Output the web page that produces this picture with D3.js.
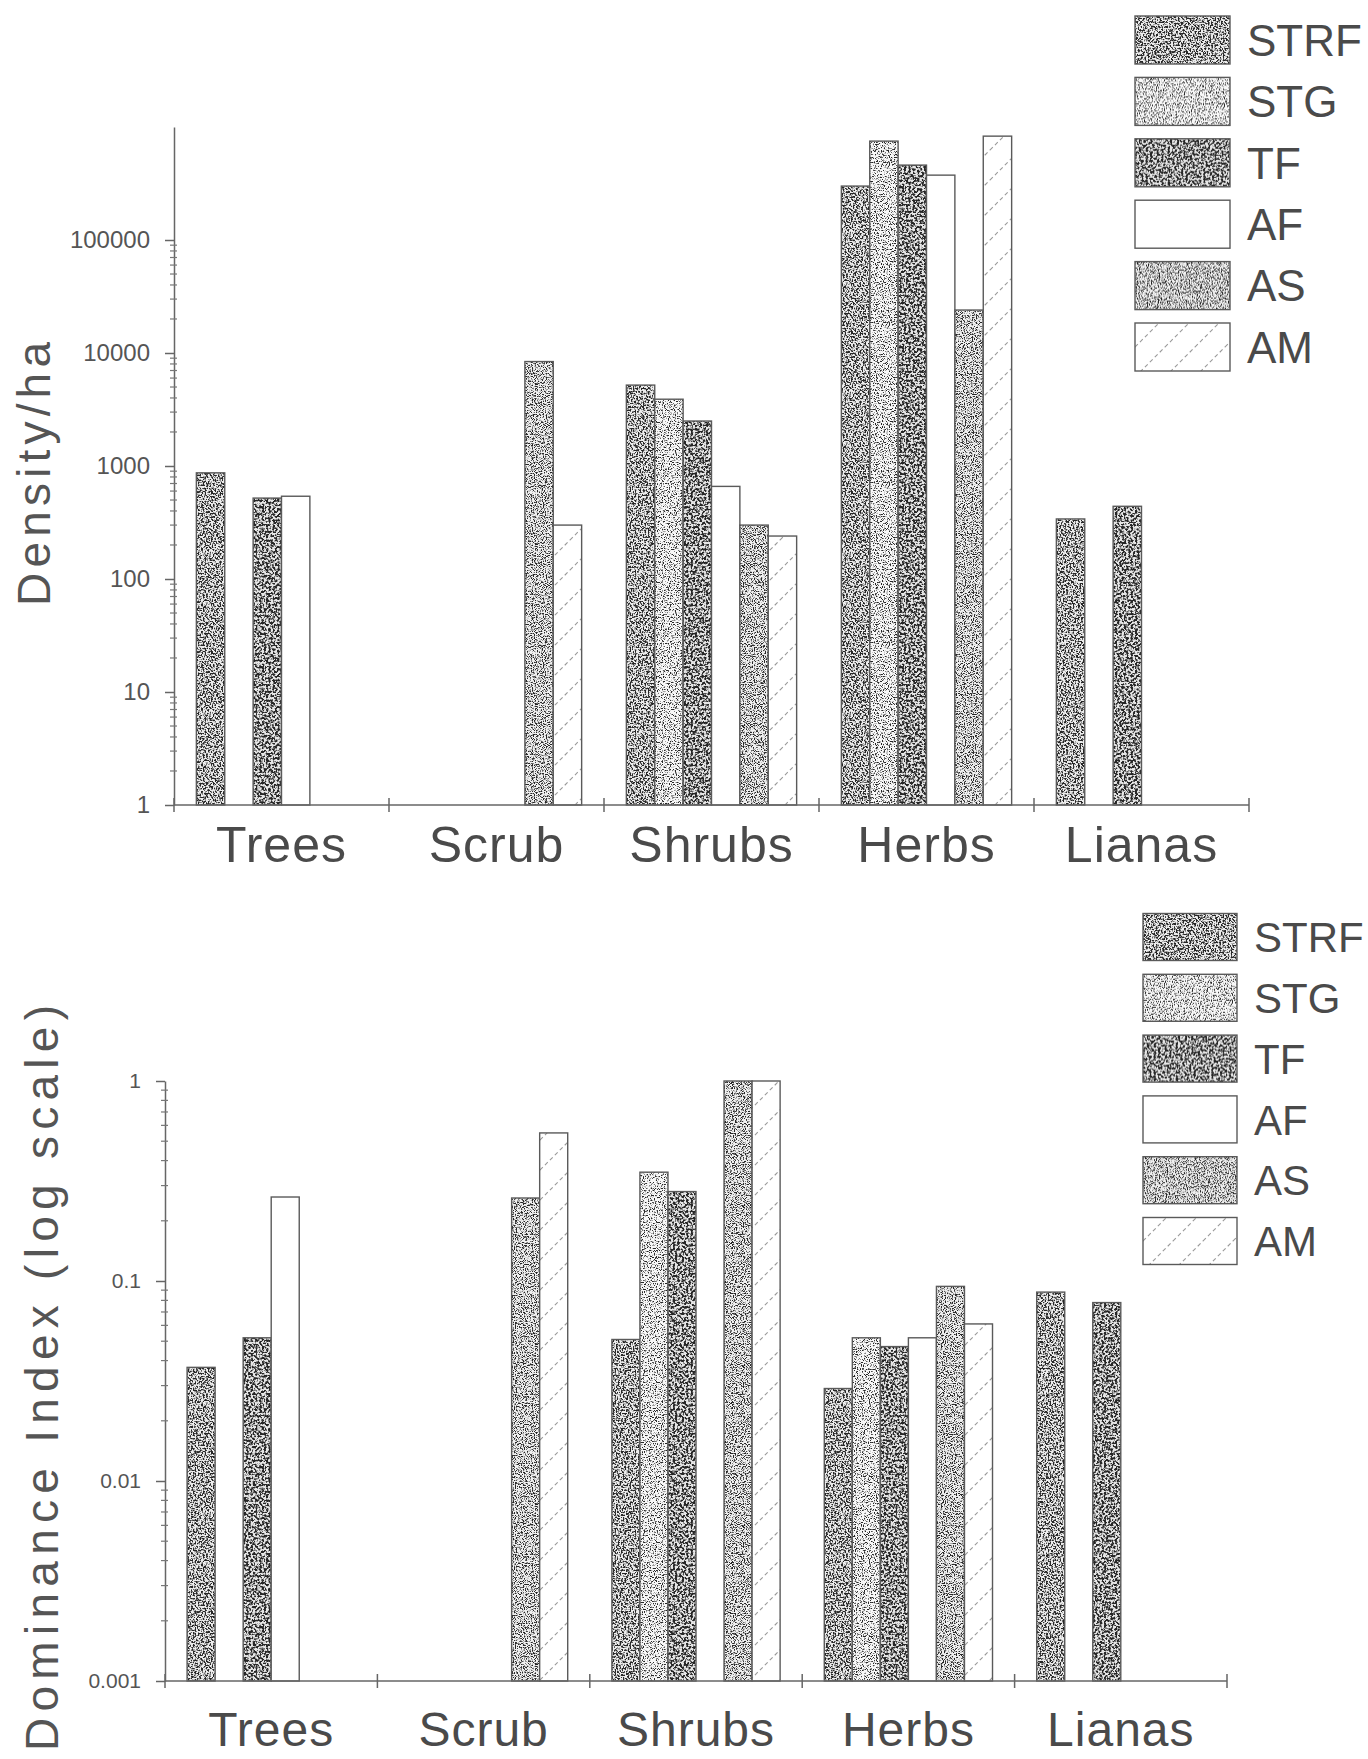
<!DOCTYPE html>
<html>
<head>
<meta charset="utf-8">
<script src="https://cdn.jsdelivr.net/npm/d3@7"></script>
<style>
  body { margin: 0; background: #fff; }
  text { font-family: "Liberation Sans", Arial, sans-serif; }
</style>
</head>
<body>
<svg></svg>
<script>
// ---- DATA ----
const categories = ["Trees", "Scrub", "Shrubs", "Herbs", "Lianas"];
const sites = ["STRF", "STG", "TF", "AF", "AS", "AM"];

// density per ha, one array per site, in category order (null = no bar)
const densitySTRF = [870, null, 5200, 300000, 340];
const densitySTG  = [null, null, 3900, 750000, null];
const densityTF   = [520, null, 2500, 460000, 440];
const densityAF   = [540, null, 660, 375000, null];
const densityAS   = [null, 8400, 300, 24000, null];
const densityAM   = [null, 300, 240, 830000, null];

// dominance index
const domSTRF = [0.037, null, 0.051, 0.029, 0.088];
const domSTG  = [null, null, 0.35, 0.052, null];
const domTF   = [0.052, null, 0.28, 0.047, 0.078];
const domAF   = [0.263, null, null, 0.052, null];
const domAS   = [null, 0.26, 1.0, 0.094, null];
const domAM   = [null, 0.55, 1.0, 0.061, null];

const densityTicks = [1, 10, 100, 1000, 10000, 100000];
const dominanceTicks = [0.001, 0.01, 0.1, 1];

// ---- SETUP ----
const svg = d3.select("svg").attr("width", 1368).attr("height", 1759);
const defs = svg.append("defs");

// textures (scan-like speckle)
const T = 160;
const textures = [
    { id: "STRF", bg: "#ededed", freq: 0.6, t: 0.53, seed: 3 },
    { id: "STG",  bg: "#f8f8f8", freq: 0.85, t: 0.595, seed: 5 },
    { id: "TF",   bg: "#e6e6e6", freq: 0.45, t: 0.51, seed: 8 },
    { id: "AS",   bg: "#f0f0f0", freq: 0.9, t: 0.565, seed: 11 }
];
textures.forEach(tx => {
    const K = 6;
    const f = defs.append("filter").attr("id", "f-" + tx.id)
        .attr("filterUnits", "userSpaceOnUse")
        .attr("x", 0).attr("y", 0).attr("width", T).attr("height", T)
        .attr("color-interpolation-filters", "sRGB");
    f.append("feTurbulence").attr("type", "fractalNoise")
        .attr("baseFrequency", tx.freq).attr("numOctaves", 2)
        .attr("seed", tx.seed).attr("stitchTiles", "stitch");
    f.append("feColorMatrix").attr("type", "matrix")
        .attr("values", `0 0 0 0 0.15  0 0 0 0 0.15  0 0 0 0 0.15  ${K} 0 0 0 ${0.5 - K * tx.t}`);
    const p = defs.append("pattern").attr("id", "p-" + tx.id)
        .attr("patternUnits", "userSpaceOnUse").attr("width", T).attr("height", T);
    p.append("rect").attr("width", T).attr("height", T).attr("fill", tx.bg);
    p.append("rect").attr("width", T).attr("height", T).attr("filter", `url(#f-${tx.id})`);
});

// AM: faint diagonal hatch
const hp = defs.append("pattern").attr("id", "p-AM")
    .attr("patternUnits", "userSpaceOnUse").attr("width", 30).attr("height", 30);
hp.append("rect").attr("width", 30).attr("height", 30).attr("fill", "#fff");
hp.append("path").attr("d", "M-6,6 L6,-6 M0,30 L30,0 M24,36 L36,24")
    .attr("stroke", "#999").attr("stroke-width", 1.1).attr("stroke-dasharray", "4 3");

const fillFor = s => s === "AF" ? "#fff" : `url(#p-${s})`;
const ink = "#4a4a4a";

// ---- CHART ----
function drawChart(cfg) {
    const g = svg.append("g");

    const x0 = d3.scaleBand().domain(categories).range([cfg.left, cfg.right]);
    const pad = x0.bandwidth() * 0.104;
    const x1 = d3.scaleBand().domain(sites).range([pad, x0.bandwidth() - pad]);
    const y = d3.scaleLog().domain(cfg.domain).range([cfg.base, cfg.top]);

    // bars
    const rows = [];
    categories.forEach((c, i) => {
        sites.forEach((s, j) => {
            const v = cfg.series[j][i];
            if (v != null) rows.push({ c, s, v });
        });
    });
    g.append("g").selectAll("rect").data(rows).join("rect")
        .attr("x", d => x0(d.c) + x1(d.s))
        .attr("y", d => y(d.v))
        .attr("width", x1.bandwidth())
        .attr("height", d => cfg.base - y(d.v))
        .attr("fill", d => fillFor(d.s))
        .attr("stroke", "#5a5a5a")
        .attr("stroke-width", 1.4);

    // y axis, major ticks
    const yAxis = g.append("g")
        .attr("transform", `translate(${cfg.left},0)`)
        .call(d3.axisLeft(y).tickValues(cfg.ticks).tickFormat(String)
            .tickSize(9).tickSizeOuter(0).tickPadding(15));
    yAxis.selectAll("path, line").attr("stroke", "#666").attr("stroke-width", 1.5);
    yAxis.selectAll("text").attr("fill", "#555").attr("font-size", cfg.tickFont);

    // minor ticks
    const minor = [];
    cfg.ticks.slice(0, -1).forEach(t => {
        for (let k = 2; k <= 9; k++) minor.push(t * k);
    });
    g.append("g").selectAll("line").data(minor).join("line")
        .attr("x1", cfg.left - 4).attr("x2", cfg.left + 3)
        .attr("y1", d => y(d)).attr("y2", d => y(d))
        .attr("stroke", "#777").attr("stroke-width", 1.2);

    // x axis line + boundary ticks
    g.append("line")
        .attr("x1", cfg.left).attr("x2", cfg.right)
        .attr("y1", cfg.base).attr("y2", cfg.base)
        .attr("stroke", "#666").attr("stroke-width", 1.5);
    const xb = d3.scaleLinear().domain([0, categories.length]).range([cfg.left, cfg.right]);
    g.append("g").selectAll("line").data(d3.range(categories.length + 1)).join("line")
        .attr("x1", d => xb(d)).attr("x2", d => xb(d))
        .attr("y1", cfg.base - 7).attr("y2", cfg.base + 7)
        .attr("stroke", "#666").attr("stroke-width", 1.5);

    // category labels
    const xAxis = g.append("g")
        .attr("transform", `translate(0,${cfg.base})`)
        .call(d3.axisBottom(x0).tickSize(0));
    xAxis.select(".domain").remove();
    xAxis.selectAll("text")
        .attr("y", cfg.labelGap).attr("dy", 0)
        .attr("fill", ink).attr("font-size", cfg.labelFont).attr("letter-spacing", 1);

    // y title
    g.append("text")
        .attr("transform", `translate(${cfg.titleX},${cfg.titleY}) rotate(-90)`)
        .attr("text-anchor", "middle")
        .attr("font-size", 46)
        .attr("fill", "#555")
        .attr("textLength", cfg.titleLen)
        .attr("lengthAdjust", "spacing")
        .text(cfg.title);

    // legend
    const lg = g.append("g").selectAll("g").data(sites).join("g")
        .attr("transform", (d, i) => `translate(${cfg.legX},${cfg.legY + i * cfg.legStep})`);
    lg.append("rect")
        .attr("x", 0).attr("y", -cfg.swH / 2)
        .attr("width", cfg.swW).attr("height", cfg.swH)
        .attr("fill", d => fillFor(d))
        .attr("stroke", "#5a5a5a").attr("stroke-width", 1.4);
    lg.append("text")
        .attr("x", cfg.swW + 17).attr("y", cfg.legFont * 0.36)
        .attr("font-size", cfg.legFont)
        .attr("fill", ink)
        .text(d => d);
}

drawChart({
    series: [densitySTRF, densitySTG, densityTF, densityAF, densityAS, densityAM],
    ticks: densityTicks,
    domain: [1, 1e6],
    left: 174, right: 1249, base: 805, top: 127,
    tickFont: 24, labelGap: 57, labelFont: 50,
    title: "Density/ha", titleX: 50, titleY: 474, titleLen: 264,
    legX: 1135, legY: 40, legStep: 61.4, swW: 95, swH: 48, legFont: 44
});

drawChart({
    series: [domSTRF, domSTG, domTF, domAF, domAS, domAM],
    ticks: dominanceTicks,
    domain: [0.001, 1],
    left: 165, right: 1227, base: 1681, top: 1081,
    tickFont: 21, labelGap: 65, labelFont: 48,
    title: "Dominance Index (log scale)", titleX: 58, titleY: 1378, titleLen: 746,
    legX: 1143, legY: 937, legStep: 60.8, swW: 94, swH: 47, legFont: 42
});
</script>
</body>
</html>
